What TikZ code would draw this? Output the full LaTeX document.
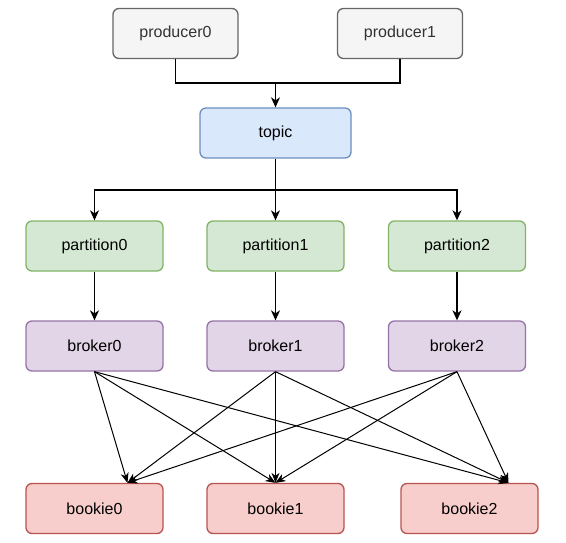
\documentclass[tikz,border=0pt]{standalone}
\usepackage{fontspec}
\setmainfont{Liberation Sans}
\usetikzlibrary{arrows.meta,calc}
\definecolor{grayfill}{HTML}{F5F5F5}\definecolor{graydraw}{HTML}{666666}
\definecolor{bluefill}{HTML}{DAE8FC}\definecolor{bluedraw}{HTML}{6C8EBF}
\definecolor{greenfill}{HTML}{D5E8D4}\definecolor{greendraw}{HTML}{82B366}
\definecolor{purplefill}{HTML}{E1D5E7}\definecolor{purpledraw}{HTML}{9673A6}
\definecolor{redfill}{HTML}{F8CECC}\definecolor{reddraw}{HTML}{B85450}
\definecolor{darktext}{HTML}{333333}
\tikzset{
  box/.style={rectangle, rounded corners=6pt, line width=1.3pt, minimum height=50pt,
    inner sep=0pt, font=\fontsize{16}{19}\selectfont, text=black},
  prodbox/.style={box, fill=grayfill, draw=graydraw, text=darktext, minimum width=125pt},
  topicbox/.style={box, fill=bluefill, draw=bluedraw, minimum width=151pt},
  partbox/.style={box, fill=greenfill, draw=greendraw, minimum width=137pt},
  brokbox/.style={box, fill=purplefill, draw=purpledraw, minimum width=137pt},
  bookbox/.style={box, fill=redfill, draw=reddraw, minimum width=137pt},
  conn/.style={line width=1.3pt, draw=black},
  arr/.style={conn, -{Stealth[length=10pt, width=9pt, inset=3pt]}},
  thinarr/.style={line width=1pt, draw=black, -{Stealth[length=10pt, width=8pt, inset=3pt]}}
}
\begin{document}
\begin{tikzpicture}[x=1pt,y=1pt]
\useasboundingbox (0,0) rectangle (566,-543);
\node[prodbox] (p0) at (175.5,-33.5) {producer0};
\node[prodbox] (p1) at (400,-33.5) {producer1};
\node[topicbox] (topic) at (275.5,-133) {topic};
\node[partbox] (pa0) at (94.5,-246) {partition0};
\node[partbox] (pa1) at (275.5,-246) {partition1};
\node[partbox] (pa2) at (457,-246) {partition2};
\node[brokbox] (br0) at (94.5,-346) {broker0};
\node[brokbox] (br1) at (275.5,-346) {broker1};
\node[brokbox] (br2) at (457,-346) {broker2};
\node[bookbox] (bk0) at (94.5,-508.5) {bookie0};
\node[bookbox] (bk1) at (275.5,-508.5) {bookie1};
\node[bookbox] (bk2) at (469.5,-508.5) {bookie2};
\coordinate (j1) at (275.5,-83);
\coordinate (j2) at (275.5,-190);
\coordinate (t0) at ($(bk0.north)+(33,0)$);
\coordinate (t1) at (bk1.north);
\coordinate (t2) at ($(bk2.north)+(39,0)$);
\draw[conn] (p0.south) |- (j1);
\draw[conn] (p1.south) |- (j1);
\draw[arr] (j1) -- (topic.north);
\draw[arr] (topic.south) -- (pa1.north);
\draw[arr] (j2) -| (pa0.north);
\draw[arr] (j2) -| (pa2.north);
\draw[arr] (pa0) -- (br0);
\draw[arr] (pa1) -- (br1);
\draw[arr] (pa2) -- (br2);
\foreach \b in {br0,br1,br2}{
  \foreach \t in {t0,t1,t2}{
    \draw[thinarr] (\b.south) -- (\t);
  }
}
\end{tikzpicture}
\end{document}
